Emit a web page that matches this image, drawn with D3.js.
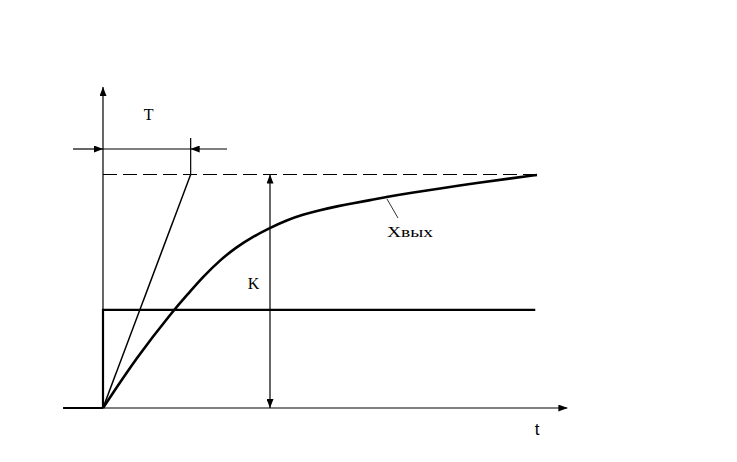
<!DOCTYPE html>
<html><head><meta charset="utf-8">
<script src="https://cdn.jsdelivr.net/npm/d3@7"></script>
<style>html,body{margin:0;padding:0;background:#fff;}svg{display:block;}
.serif{font-family:"Liberation Serif","DejaVu Serif",serif;}
.sans{font-family:"Liberation Sans","DejaVu Sans",sans-serif;}
</style>
</head><body>
<svg id="c" width="737" height="462"></svg>
<script>
// ---- data (time in units of T, output in units of K) ----
const curveT = [0, 0.39, 0.795, 1.00, 1.15, 1.35, 1.54, 1.73, 1.92, 2.12, 2.30, 2.50, 2.70, 2.88, 3.08, 3.27, 3.54, 3.92, 4.31, 4.69, 5.0];
const curveY = [0, 0.218, 0.411, 0.497, 0.561, 0.634, 0.690, 0.734, 0.771, 0.805, 0.828, 0.848, 0.864, 0.877, 0.890, 0.904, 0.921, 0.942, 0.964, 0.983, 0.998];
const stepLevel = 0.42;     // input step
const stepEnd = 4.98;
const gain = 1;             // K
const timeConst = 1.01;     // T
const dashEnd = 5.0;
const axisX = [-0.46, 5.35];
const axisY = [0, 1.375];
const labels = {T: "T", K: "K", out: "Хвых", t: "t"};

const svg = d3.select("#c");
const x = d3.scaleLinear().domain([0, 5]).range([103, 537]);
const y = d3.scaleLinear().domain([0, 1]).range([408, 174.5]);

const defs = svg.append("defs");
defs.append("marker").attr("id", "arr").attr("viewBox", "0 0 9 7")
  .attr("refX", 9).attr("refY", 3.5).attr("markerWidth", 9).attr("markerHeight", 7)
  .attr("markerUnits", "userSpaceOnUse").attr("orient", "auto-start-reverse")
  .append("path").attr("d", "M0,0 L9,3.5 L0,7 Z").attr("fill", "#000");

const g = svg.append("g").attr("fill", "none").attr("stroke", "#000");

// axes
g.append("line").attr("x1", x(axisX[0])).attr("x2", x(0)).attr("y1", y(0)).attr("y2", y(0)).attr("stroke-width", 2);
g.append("line").attr("x1", x(0)).attr("x2", x(axisX[1])).attr("y1", y(0)).attr("y2", y(0)).attr("stroke-width", 1.2).attr("marker-end", "url(#arr)");
g.append("line").attr("x1", x(0)).attr("x2", x(0)).attr("y1", y(0)).attr("y2", y(axisY[1])).attr("stroke-width", 1.2).attr("marker-end", "url(#arr)");

// step input
g.append("path").attr("d", d3.line()([[x(0), y(0)], [x(0), y(stepLevel)], [x(stepEnd), y(stepLevel)]])).attr("stroke-width", 2.2);

// dashed steady-state
g.append("line").attr("x1", x(0)).attr("x2", x(dashEnd)).attr("y1", y(gain)).attr("y2", y(gain))
  .attr("stroke-width", 1.2).attr("stroke-dasharray", "14,6");

// tangent
g.append("line").attr("x1", x(0)).attr("y1", y(0)).attr("x2", x(timeConst)).attr("y2", y(gain)).attr("stroke-width", 1.5);

// output curve
const pts = curveT.map((t, i) => [x(t), y(curveY[i])]);
g.append("path").attr("d", d3.line().curve(d3.curveBasis)(pts)).attr("stroke-width", 2.6);

// T dimension
const yT = 149;
g.append("line").attr("x1", 73).attr("x2", x(0)).attr("y1", yT).attr("y2", yT).attr("stroke-width", 1.2).attr("marker-end", "url(#arr)");
g.append("line").attr("x1", 227).attr("x2", x(timeConst)).attr("y1", yT).attr("y2", yT).attr("stroke-width", 1.2).attr("marker-end", "url(#arr)");
g.append("line").attr("x1", x(0)).attr("x2", x(timeConst)).attr("y1", yT).attr("y2", yT).attr("stroke-width", 1.2);
g.append("line").attr("x1", x(timeConst)).attr("x2", x(timeConst)).attr("y1", 138).attr("y2", y(gain)).attr("stroke-width", 1.2);

// K dimension
const xK = 270;
g.append("line").attr("x1", xK).attr("x2", xK).attr("y1", y(0)).attr("y2", y(gain))
  .attr("stroke-width", 1.2).attr("marker-start", "url(#arr)").attr("marker-end", "url(#arr)");

// pointer to curve
g.append("line").attr("x1", 387).attr("y1", 199).attr("x2", 398).attr("y2", 218).attr("stroke-width", 0.8);

// labels
const txt = svg.append("g").attr("fill", "#000");
txt.append("text").attr("class", "serif").attr("x", 148.6).attr("y", 120).attr("text-anchor", "middle").attr("font-size", 16).text(labels.T);
txt.append("text").attr("class", "serif").attr("x", 253.5).attr("y", 289).attr("text-anchor", "middle").attr("font-size", 16).text(labels.K);
txt.append("text").attr("class", "serif").attr("x", 387).attr("y", 237).attr("font-size", 15.5)
  .attr("textLength", 46).attr("lengthAdjust", "spacingAndGlyphs").text(labels.out);
txt.append("text").attr("class", "sans").attr("x", 537).attr("y", 435).attr("text-anchor", "middle").attr("font-size", 17).text(labels.t);
</script>
</body></html>
